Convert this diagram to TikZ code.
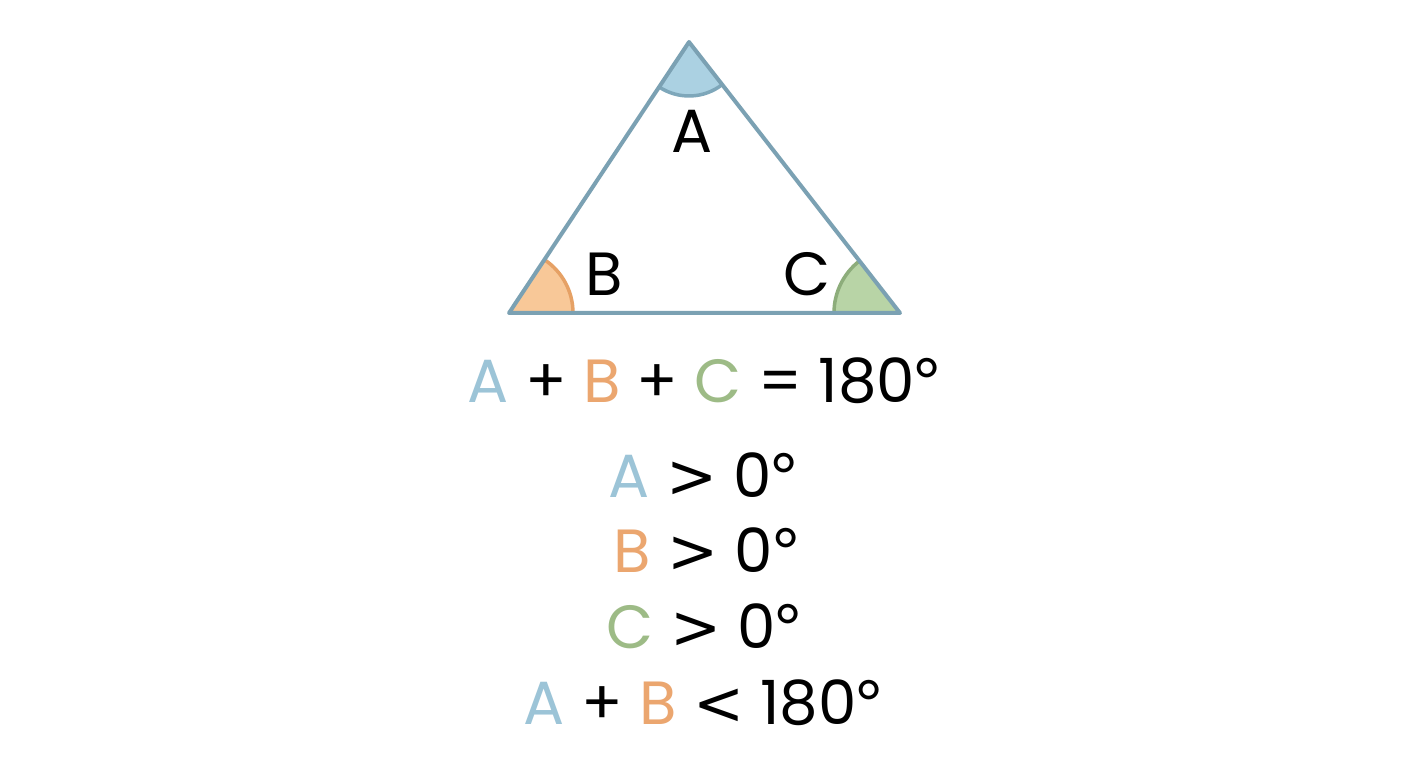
\documentclass[tikz,border=0pt]{standalone}
\usepackage{fontspec}
\setmainfont{Poppins}
\newfontfamily\symfont{Lato}
\newfontfamily\relfont{DejaVu Sans}
\usetikzlibrary{calc,angles}

\definecolor{edgecol}{HTML}{7BA1B3}
\definecolor{fillA}{HTML}{ABD1E2}
\definecolor{arcA}{HTML}{7EA7BA}
\definecolor{fillB}{HTML}{F8C898}
\definecolor{arcB}{HTML}{E6A165}
\definecolor{fillC}{HTML}{B8D4A6}
\definecolor{arcC}{HTML}{8DAD7B}
\definecolor{txtA}{HTML}{9CC4D7}
\definecolor{txtB}{HTML}{EBA66F}
\definecolor{txtC}{HTML}{9DBB86}

\newcommand{\gtr}{{\relfont >}}
\newcommand{\lss}{{\relfont <}}
\newcommand{\dg}{{\symfont °}}

\begin{document}
\begin{tikzpicture}[x=1pt,y=1pt,
    lbl/.style={anchor=base,inner sep=0pt,font=\fontsize{61}{70}\selectfont},
    wedge/.style={line width=3.5pt}]
        \useasboundingbox [fill=white] (0,0) rectangle (1408,768);
        % 顶点A,B,C
        \coordinate (A) at (689,726);
        \coordinate (B) at (509,455);
        \coordinate (C) at (900,455);
        % 三个角
        \pic [wedge,draw=arcA,fill=fillA,angle radius=54pt] {angle=B--A--C};
        \pic [wedge,draw=arcB,fill=fillB,angle radius=64pt] {angle=C--B--A};
        \pic [wedge,draw=arcC,fill=fillC,angle radius=66pt] {angle=A--C--B};
        % 三角形
        \draw [edgecol,line width=4pt,line join=round] (A) -- (B) -- (C) -- cycle;
        % 角的标记
        \node [lbl] (labA) at (692,615) {A};
        \node [lbl] (labB) at (604,472) {B};
        \node [lbl] (labC) at (807,472) {C};
        % 等式与不等式
        \node [lbl] (sum) at (704,365) {\textcolor{txtA}{A} + \textcolor{txtB}{B} + \textcolor{txtC}{C} = 180\dg};
        \node [lbl] (posA) at (703,270) {\textcolor{txtA}{A} \gtr{} 0\dg};
        \node [lbl] (posB) at (706,195) {\textcolor{txtB}{B} \gtr{} 0\dg};
        \node [lbl] (posC) at (704,119) {\textcolor{txtC}{C} \gtr{} 0\dg};
        \node [lbl] (pair) at (703,43) {\textcolor{txtA}{A} + \textcolor{txtB}{B} \lss{} 180\dg};
    \end{tikzpicture}
\end{document}
